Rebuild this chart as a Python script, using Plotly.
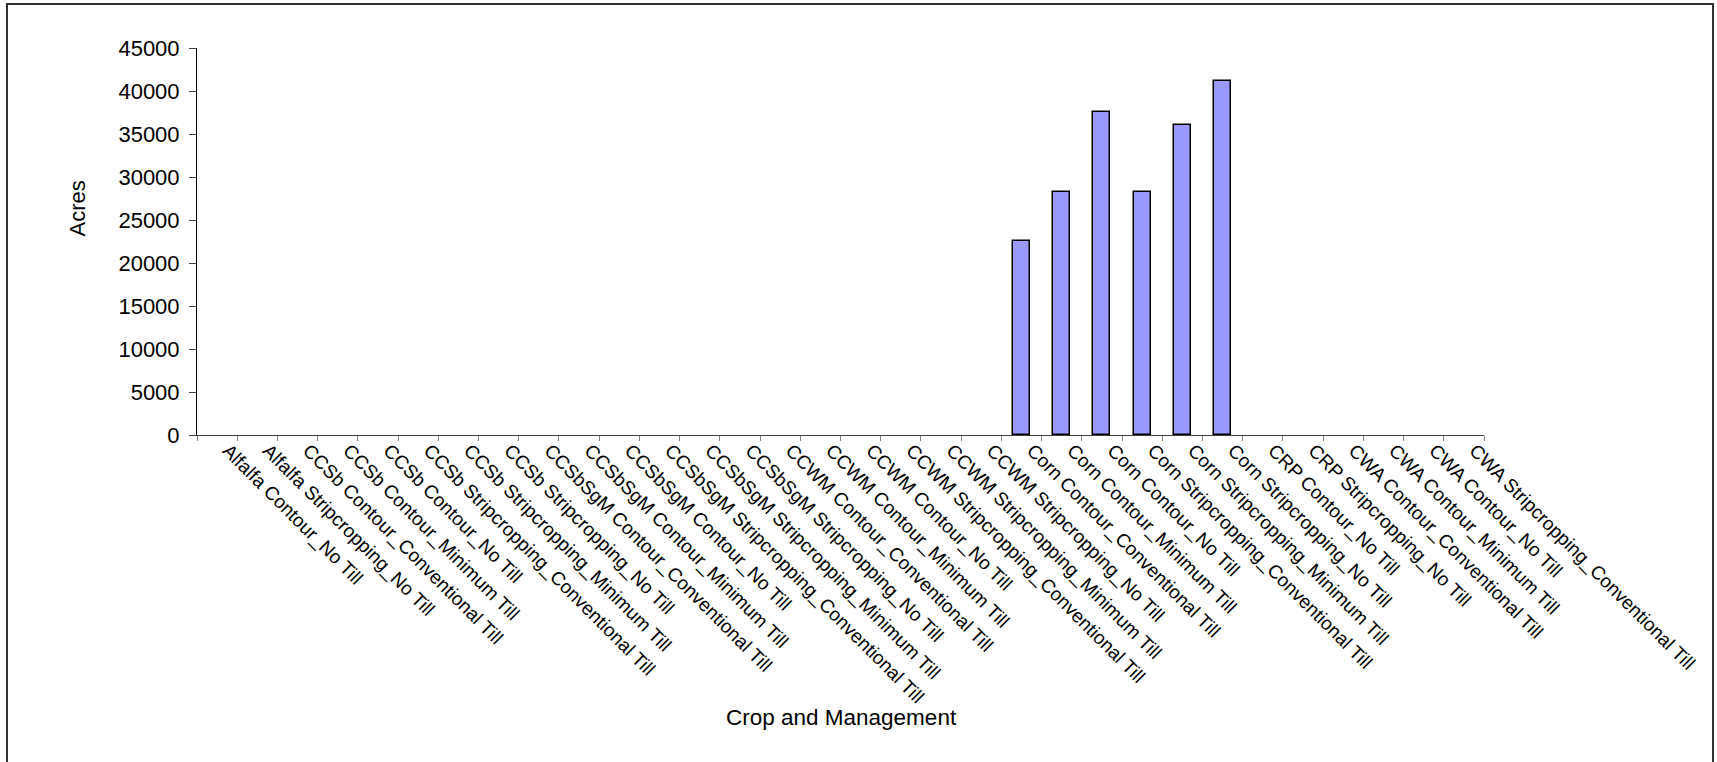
import plotly.graph_objects as go

# Crop / management combinations along the x axis
categories = [
    "Alfalfa Contour_No Till",
    "Alfalfa Stripcropping_No Till",
    "CCSb Contour_Conventional Till",
    "CCSb Contour_Minimum Till",
    "CCSb Contour_No Till",
    "CCSb Stripcropping_Conventional Till",
    "CCSb Stripcropping_Minimum Till",
    "CCSb Stripcropping_No Till",
    "CCSbSgM Contour_Conventional Till",
    "CCSbSgM Contour_Minimum Till",
    "CCSbSgM Contour_No Till",
    "CCSbSgM Stripcropping_Conventional Till",
    "CCSbSgM Stripcropping_Minimum Till",
    "CCSbSgM Stripcropping_No Till",
    "CCWM Contour_Conventional Till",
    "CCWM Contour_Minimum Till",
    "CCWM Contour_No Till",
    "CCWM Stripcropping_Conventional Till",
    "CCWM Stripcropping_Minimum Till",
    "CCWM Stripcropping_No Till",
    "Corn Contour_Conventional Till",
    "Corn Contour_Minimum Till",
    "Corn Contour_No Till",
    "Corn Stripcropping_Conventional Till",
    "Corn Stripcropping_Minimum Till",
    "Corn Stripcropping_No Till",
    "CRP Contour_No Till",
    "CRP Stripcropping_No Till",
    "CWA Contour_Conventional Till",
    "CWA Contour_Minimum Till",
    "CWA Contour_No Till",
    "CWA Stripcropping_Conventional Till",
]

# Acres for each combination
acres = [
    0, 0, 0, 0, 0, 0, 0, 0,
    0, 0, 0, 0, 0, 0, 0, 0,
    0, 0, 0, 0,
    22600, 28200, 37600, 28200, 36000, 41200,
    0, 0, 0, 0, 0, 0,
]

y_ticks = [0, 5000, 10000, 15000, 20000, 25000, 30000, 35000, 40000, 45000]

FONT = "Liberation Sans, Arial, sans-serif"

# plot-area geometry in pixels
W, H = 1717, 762
L, R, T, B = 197, 1484, 48, 435
pw, ph = R - L, B - T


def px_x(x):
    return (x - L) / pw


def px_y(y):
    return (B - y) / ph


fig = go.Figure(
    go.Bar(
        x=categories,
        y=acres,
        width=0.42,
        marker=dict(
            color="#9999FF",
            line=dict(color="#000000", width=[1.5 if v else 0 for v in acres]),
        ),
    )
)

fig.update_layout(
    width=W,
    height=H,
    autosize=False,
    margin=dict(l=L, r=W - R, t=T, b=H - B, pad=0),
    paper_bgcolor="white",
    plot_bgcolor="white",
    showlegend=False,
    font=dict(family=FONT, size=22, color="black"),
    bargap=0,
    xaxis=dict(
        type="category",
        range=[-0.5, len(categories) - 0.5],
        tickangle=45,
        tickfont=dict(family=FONT, size=19, color="black"),
        ticklabelshift=11,
        ticklabelstandoff=-4,
        showline=True,
        linecolor="#404040",
        linewidth=1,
        ticks="outside",
        tickson="boundaries",
        ticklen=5,
        tickcolor="#808080",
        showgrid=False,
        zeroline=False,
    ),
    yaxis=dict(
        range=[0, 45000],
        tickvals=y_ticks,
        ticktext=[str(v) for v in y_ticks],
        tickfont=dict(family=FONT, size=22, color="black"),
        ticklabelstandoff=5,
        showline=True,
        linecolor="#000000",
        linewidth=1,
        ticks="outside",
        ticklen=7,
        tickcolor="#404040",
        showgrid=False,
        zeroline=False,
    ),
    annotations=[
        dict(
            text="Acres",
            xref="paper", yref="paper",
            x=px_x(62), y=px_y(209),
            showarrow=False, textangle=-90,
            font=dict(family=FONT, size=22, color="black"),
        ),
        dict(
            text="Crop and Management",
            xref="paper", yref="paper",
            x=px_x(841.5), y=px_y(732),
            showarrow=False,
            font=dict(family=FONT, size=22.5, color="black"),
        ),
    ],
    shapes=[
        # chart-area frame
        dict(
            type="rect", xref="paper", yref="paper",
            x0=px_x(7), x1=px_x(1713), y0=px_y(775), y1=px_y(4),
            line=dict(color="#333333", width=2),
            fillcolor="rgba(0,0,0,0)",
            layer="below",
        ),
    ],
)

fig.write_html("out.html")
